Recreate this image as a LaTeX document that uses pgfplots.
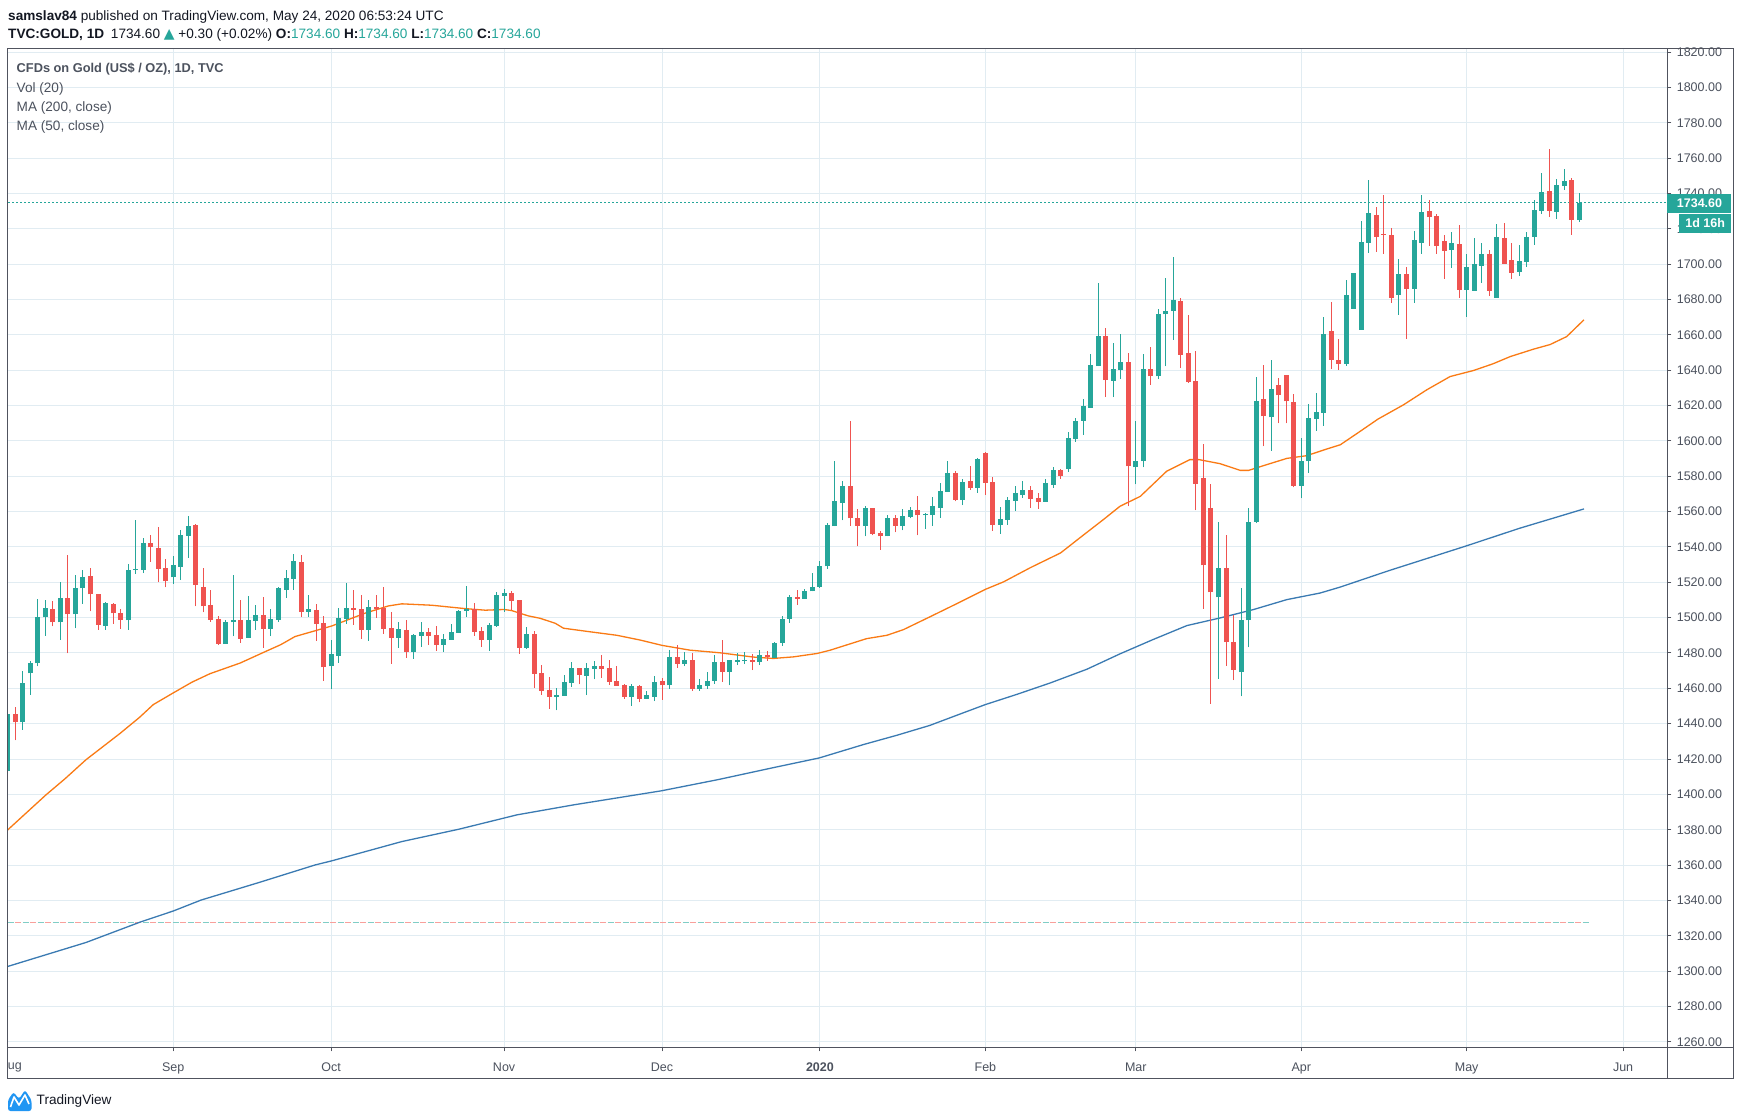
\documentclass[border=0pt]{standalone}
\usepackage{fontspec}
\setmainfont{Liberation Sans}
\newfontfamily\dejavu{DejaVu Sans}
\usepackage{pgfplots}
\pgfplotsset{compat=1.18}
\usepackage{pgfplotstable}
\definecolor{upc}{HTML}{26A69A}
\definecolor{dnc}{HTML}{EF5350}
\definecolor{gridcol}{HTML}{E1ECF2}
\definecolor{axiscol}{HTML}{50535E}
\definecolor{labcol}{HTML}{4C525E}
\definecolor{hdr}{HTML}{131722}
\definecolor{maorange}{RGB}{250,122,20}
\definecolor{mablue}{RGB}{58,122,178}
\definecolor{volred}{RGB}{248,160,155}
\definecolor{volteal}{RGB}{128,205,198}
\definecolor{tvblue}{HTML}{2196F3}

\pgfplotstableread{
i o h l c
0 1413.1 1446 1413 1445.7
2 1440.8 1470 1436.6 1463.2
3 1468.5 1475.3 1456.4 1474.3
4 1474.1 1510.7 1472.4 1500.3
5 1500.1 1510.1 1489.8 1505.4
7 1497.3 1520.3 1487.5 1511
9 1501.8 1524.2 1493.9 1516.7
10 1516.5 1527 1507.8 1523.1
13 1495.4 1509 1493.1 1508.4
16 1498.4 1530.4 1493.1 1527
17 1527 1555.3 1524.8 1527.6
18 1527 1545.1 1525.2 1542.3
22 1522.7 1535 1519.1 1529.9
23 1528.9 1549.6 1521.4 1546.8
24 1546.4 1557.6 1534 1551.9
29 1485.2 1498.8 1485.2 1497.7
30 1497.3 1524.2 1489.4 1498.8
32 1488.6 1512.4 1488.6 1498.8
33 1498.2 1507.3 1493.1 1501.6
35 1493.7 1505 1489.6 1499.3
36 1498.8 1517.4 1497.7 1516.9
37 1515.9 1527 1511.3 1522.4
38 1522.1 1536 1515.9 1532.1
40 1503.4 1512.8 1500.6 1504.7
43 1472.4 1487.4 1459.5 1479.5
44 1478.4 1505.3 1474.6 1499.8
45 1499.3 1519.6 1496.5 1505.5
48 1493.1 1510 1487 1506.1
52 1488.6 1497.6 1482.9 1493.6
54 1480.6 1490.8 1476.7 1490.2
55 1489.7 1497.6 1483.5 1491.9
58 1484.6 1490.8 1480.6 1488
59 1487.4 1496.5 1487.4 1491.9
60 1491.4 1504.4 1491.4 1503.8
61 1503.8 1517.9 1500.4 1504.6
64 1487.4 1497 1481.2 1495.9
65 1495.3 1514.5 1494.8 1512.8
66 1512.3 1516.2 1503.2 1514
69 1482.9 1494.8 1482.3 1490.8
73 1455.1 1460.4 1447.5 1456.1
74 1455.7 1467.4 1455.7 1463.3
75 1463.1 1474.8 1460.8 1471.4
77 1467 1474.1 1456.1 1471.4
78 1471 1475.4 1465 1472.5
83 1455.1 1462.7 1450 1461.2
85 1454 1458.3 1454 1456.1
86 1455.1 1466.9 1452.8 1463.5
88 1461.7 1481.6 1459.7 1477.7
90 1473.9 1480.5 1472.5 1476
92 1459.7 1465 1458.5 1461.7
93 1461.4 1469.1 1459.7 1464
94 1464.2 1478.8 1462.7 1474.8
96 1469.3 1476 1461.7 1476
97 1475 1480 1473.1 1476
98 1475.6 1480.5 1473.7 1476.2
100 1475 1481.6 1473.1 1478.6
102 1477.1 1486 1477.1 1485.6
103 1485.8 1500.9 1484 1499.2
104 1499.4 1512.9 1497.2 1511.6
106 1510.8 1516.1 1510.8 1515.2
107 1514.8 1525.4 1514.8 1517.4
108 1517.4 1531.8 1517 1529.4
109 1529 1553.4 1527.7 1552.5
110 1551.7 1588.4 1551.7 1565.7
111 1565.1 1577.4 1555 1574.5
114 1552.1 1563.2 1545.9 1562.1
117 1546 1558.2 1546 1556.5
119 1552.1 1561.5 1549.3 1557.6
120 1557.2 1562.7 1556.1 1561
122 1557.8 1559.3 1550.4 1558.7
123 1558.3 1568.3 1552.1 1563.2
124 1562.3 1576.2 1556.6 1571.7
125 1571.3 1588.7 1571.3 1581.9
127 1566.6 1578.5 1563.6 1576.8
129 1573.4 1590.4 1570.6 1589.8
132 1552.5 1562.7 1547.4 1555.9
133 1555.3 1568.3 1552.5 1566.6
134 1566.1 1574.5 1560.4 1570.6
135 1569.5 1577.4 1567.8 1572.3
138 1565.5 1578.5 1565.5 1576.2
139 1575.1 1585.3 1573.4 1583.6
141 1584.1 1605 1582.4 1601.7
142 1601.1 1613 1599.4 1611.3
143 1611.3 1623.7 1603.4 1619.7
144 1618.8 1649.1 1618.8 1642.9
145 1642.3 1689.2 1642.3 1659.3
147 1633.8 1655.3 1624.8 1640.6
148 1640.1 1660.4 1635 1644.6
150 1585 1611.4 1575.4 1588.8
151 1588.4 1649.3 1585 1640.8
153 1636.5 1674.6 1635 1671.9
154 1671.6 1692.3 1642.1 1673.6
155 1673.2 1703.8 1657.2 1679.8
161 1511.5 1554.3 1465.5 1528.3
164 1469.1 1517 1455.5 1498.9
165 1498.5 1561.8 1483.2 1554.3
166 1554.3 1635.9 1553.5 1622.7
168 1613.3 1645.9 1594.5 1629.5
172 1574.6 1601.8 1567.5 1588.8
173 1588.4 1621 1582 1613.1
174 1612.5 1627.2 1605.8 1616.5
175 1615.9 1670.2 1608.6 1660.6
178 1643.6 1690.8 1642.5 1682.3
179 1674.7 1695.1 1674.7 1695.1
180 1662.8 1724.5 1662.8 1712.6
181 1712.1 1747.7 1706.4 1729.1
185 1682.6 1703 1671.3 1694.5
187 1686 1718.9 1678.1 1713.8
188 1712.1 1739.2 1705.8 1729.6
192 1708.1 1718.3 1697.9 1712.1
194 1685.5 1705.8 1670.2 1698.5
195 1684.9 1714.9 1684.9 1700.2
196 1699.1 1712.1 1689.4 1705.8
198 1680.9 1722.8 1680.9 1715.5
201 1695.7 1710.9 1693.4 1701.9
202 1701.3 1718.3 1698.5 1715.5
203 1715.5 1736.4 1710.9 1730.8
204 1730.2 1751.7 1728.5 1740.9
206 1729.6 1748.3 1725.7 1744.9
207 1744.3 1754 1742.1 1747.2
209 1725.1 1740.4 1724 1734.6
}\upbars

\pgfplotstableread{
i o h l c
1 1445.7 1449.6 1430.6 1440.8
6 1505 1509.5 1495 1497.3
8 1511 1535.5 1479.8 1501.8
11 1523.7 1527.9 1503.5 1513.1
12 1513.5 1513.5 1493.1 1496
14 1507.8 1508.4 1496.5 1502.4
15 1502.8 1505 1493.7 1498.8
19 1542.3 1546.8 1531.6 1539.7
20 1539.5 1551 1519.9 1527.6
21 1528.2 1533.3 1517.1 1520.5
25 1552.5 1553 1506.3 1518.6
26 1517.4 1528 1502.9 1506.3
27 1507.3 1515.7 1497.7 1498.8
28 1499.4 1501 1484.7 1485.2
31 1498.8 1509.7 1485.8 1488.1
34 1501.6 1511.8 1483 1493.7
39 1531.5 1535.4 1500.6 1503.4
41 1504.4 1507.8 1487 1496.5
42 1497 1501 1464.4 1471.8
46 1505.5 1515.7 1495.9 1504.4
47 1504.9 1512.8 1487.8 1493.1
49 1506.1 1512.8 1499.8 1504.7
50 1505.5 1517.4 1490.8 1493.6
51 1494.2 1503.2 1473.9 1488.6
53 1493.1 1498.7 1477.3 1480.6
56 1491.9 1494.2 1484.6 1489.7
57 1490.2 1495.3 1481.2 1484.6
62 1504.9 1508.3 1489.7 1491.9
63 1492.5 1494.8 1483.5 1487.4
67 1514 1515.1 1504.4 1509.5
68 1510 1510 1479.5 1482.9
70 1490.8 1492.5 1460.3 1468.2
71 1468.8 1473.3 1456.3 1458.6
72 1459.2 1466.5 1448.4 1455.2
76 1471.4 1471.4 1462.3 1467.6
79 1472.5 1478.6 1465.9 1471
80 1471.4 1476 1462 1463.6
81 1464 1472.9 1461.4 1461.4
82 1461.7 1462.3 1454 1455.1
84 1461.2 1461.7 1452.1 1454
87 1464 1465.9 1453.4 1461.7
89 1477.7 1484.5 1471.6 1473.9
91 1476 1480 1458.5 1459.7
95 1474.8 1487.3 1463.6 1469.3
99 1476 1479.4 1470.3 1475
101 1478.6 1481.3 1475.6 1477.7
105 1511.6 1515.7 1507.2 1510.8
112 1574.5 1611.3 1552.1 1556.1
113 1556.5 1561.5 1540.3 1552.1
115 1562.1 1562.1 1546.5 1547.4
116 1548 1549.1 1538.4 1546
118 1556.5 1558.2 1548.2 1552.1
121 1561 1568.9 1546.5 1557.8
126 1581.9 1583 1565.7 1566.6
128 1577.4 1585.8 1572.3 1573.4
130 1593.2 1593.8 1569.5 1576.2
131 1576.8 1579.6 1549.1 1552.5
136 1572.3 1574.5 1562.3 1567.2
137 1567.8 1570.6 1561.5 1565.5
140 1583.6 1584.1 1578.5 1580.2
146 1659.3 1663.8 1624.8 1634.4
149 1644.6 1649.7 1563 1585.5
152 1640.8 1653.3 1631.8 1636.5
156 1679.3 1680.8 1641.2 1648.7
157 1649.9 1671.3 1632.9 1633.3
158 1634 1650.6 1560.7 1575.8
159 1579.2 1598.4 1505.1 1529.6
160 1562.2 1575.8 1451.4 1514.3
162 1528.3 1546.6 1472.9 1486.1
163 1486.4 1501.7 1464.6 1470.6
167 1623.8 1643.1 1596.9 1613.9
169 1631.8 1635.7 1609.9 1625.7
170 1637.4 1637.4 1609.9 1622.3
171 1622 1626.7 1573.7 1574.6
176 1662.3 1678.7 1640.8 1645.9
177 1645.9 1657.8 1640.2 1643.6
182 1727.9 1732.5 1707 1715.5
183 1717.2 1739.2 1705.8 1716.6
184 1716.6 1720.6 1678.1 1680.9
186 1694.5 1698.5 1657.7 1686
189 1730.2 1736.4 1710.4 1726.8
190 1727.4 1728.5 1705.8 1710.4
191 1713.2 1716.6 1691.7 1707.5
193 1711.5 1722.3 1680.9 1685.5
197 1705.8 1708.1 1682.1 1684.9
199 1714.9 1723.4 1700.2 1700.2
200 1702.5 1712.1 1691.7 1695.1
205 1741.5 1765.3 1726.8 1730.2
208 1747.7 1748.9 1716.6 1725.1
}\downbars

\newcommand{\hdrfont}{\fontsize{13.6bp}{15bp}\selectfont}
\newcommand{\legfont}{\fontsize{13.6bp}{15bp}\selectfont}

\begin{document}
\begin{tikzpicture}
\fill[white] (0bp,0bp) rectangle (1741bp,-1119bp);
\useasboundingbox (0bp,0bp) rectangle (1741bp,-1119bp);

\begin{axis}[
  at={(7.3bp,-1047.3bp)}, anchor=south west,
  scale only axis, width=1660bp, height=999.1bp,
  xmin=-0.066, xmax=220.68, ymin=1256.89, ymax=1822.15,
  axis line style={draw=axiscol, line width=1bp},
  xtick={22,43,66,87,108,130,150,172,194,214.8},
  xticklabels={Sep,Oct,Nov,Dec,\textbf{2020},Feb,Mar,Apr,May,Jun},
  ytick={1260,1280,...,1820},
  xtick pos=left, ytick pos=right, yticklabel pos=right,
  tick align=outside, major tick length=4bp,
  tick style={draw=axiscol, line width=1bp},
  grid=major, major grid style={draw=gridcol, line width=1bp},
  scaled y ticks=false,
  /pgf/number format/assume math mode=true,
  tick label style={font=\fontsize{12.5bp}{14bp}\selectfont, text=labcol},
  xticklabel style={yshift=-7.3bp, text height=9.1bp, text depth=2.7bp},
  yticklabel style={anchor=west, xshift=2bp,
     /pgf/number format/fixed, /pgf/number format/fixed zerofill,
     /pgf/number format/precision=2, /pgf/number format/1000 sep={}},
  clip=true,
]
% volume MA (dashed, two colours)
\addplot[volred, line width=1.2bp, dash pattern=on 6bp off 9bp, forget plot] coordinates {(-1,1327.6) (210.4,1327.6)};
\addplot[volteal, line width=1.2bp, dash pattern=on 6bp off 9bp, dash phase=7.5bp, forget plot] coordinates {(-1,1327.6) (210.4,1327.6)};
% last price line
\addplot[upc, line width=1bp, dash pattern=on 2bp off 2bp, forget plot] coordinates {(-1,1734.6) (222,1734.6)};
% MA 200
\addplot[mablue, line width=1.3bp, forget plot] coordinates {
(-0.5,1302) (10.4,1316.2) (17.7,1327.9) (22,1334) (25.7,1340.2) (33.3,1350) (40.9,1360.1) (43,1362.3) (52.4,1373.3) (60,1380.3) (65.9,1386.5) (67.7,1388.4) (75.3,1394.1) (86.9,1402) (94.4,1408.3) (102,1415.3) (107.9,1420.6) (113.8,1428.2) (118.2,1433.4) (122.6,1439) (127.1,1446.2) (130,1450.8) (134.2,1456.6) (138.6,1463) (143.5,1470.8) (147.9,1479.5) (152.3,1487.6) (156.8,1495.5) (161.2,1499.8) (165.6,1504.5) (170.1,1510.2) (174.5,1513.9) (177.2,1517.3) (183.6,1526.5) (193.9,1540.5) (201,1550.5) (209.6,1561.5)};
% MA 50
\addplot[maorange, line width=1.3bp, forget plot] coordinates {
(-0.5,1378) (5.1,1399.8) (7.6,1408.8) (10.4,1419.6) (14.9,1434.4) (17.5,1443.5) (19.35,1450.8) (22,1457.4) (24.5,1463.5) (26.9,1468.3) (30.9,1474.3) (34.1,1480.5) (36.3,1484.7) (38.2,1489.3) (43.1,1495.3) (47.5,1502.5) (50.6,1506.6) (52.4,1507.8) (56.4,1507) (60.8,1505.1) (63.5,1504.2) (66,1504.6) (67,1504) (69.2,1501) (70.8,1499.6) (72.8,1496.8) (73.9,1494) (77.4,1492) (81,1490) (84.1,1487.3) (87,1484.3) (90.7,1481.6) (94.7,1480.1) (99.1,1477.7) (101.8,1476.9) (104.5,1477.8) (107.6,1479.7) (109.3,1481.5) (114.2,1488.1) (116.9,1490) (119.1,1493.2) (122.6,1500.4) (126.2,1507.9) (130,1516) (132.4,1520.2) (136,1528.3) (140,1536.6) (143,1546.6) (145.7,1555.5) (147.9,1563) (149.2,1565.7) (150.6,1568.6) (154.1,1582.8) (157.2,1589.4) (158.4,1589.4) (161.2,1587.1) (163.9,1583.3) (165,1583.3) (167,1586) (170.1,1590.1) (172.7,1591.6) (175.4,1595.4) (177.2,1597.8) (179.7,1605) (182.2,1612.3) (185.6,1620.4) (188.7,1628.9) (191.8,1636.4) (194.9,1639.8) (197.5,1643.6) (199.8,1647.7) (202.9,1651.9) (205.1,1654.5) (207.3,1659) (209.6,1668.5)};
% wicks
\addplot[draw=none, mark=none, forget plot,
  error bars/.cd, y dir=plus, y explicit, error mark=none,
  error bar style={line width=1bp, draw=upc}]
  table[x=i, y=l, y error plus expr=\thisrow{h}-\thisrow{l}] {\upbars};
\addplot[draw=none, mark=none, forget plot,
  error bars/.cd, y dir=plus, y explicit, error mark=none,
  error bar style={line width=1bp, draw=dnc}]
  table[x=i, y=l, y error plus expr=\thisrow{h}-\thisrow{l}] {\downbars};
% bodies
\addplot[draw=none, mark=none, forget plot,
  error bars/.cd, y dir=plus, y explicit, error mark=none,
  error bar style={line width=5bp, draw=upc}]
  table[x=i, y=o, y error plus expr=\thisrow{c}-\thisrow{o}] {\upbars};
\addplot[draw=none, mark=none, forget plot,
  error bars/.cd, y dir=plus, y explicit, error mark=none,
  error bar style={line width=5bp, draw=dnc}]
  table[x=i, y=c, y error plus expr=\thisrow{o}-\thisrow{c}] {\downbars};
\end{axis}

\begin{scope}[x=1bp,y=1bp]
% outer frame
\draw[axiscol, line width=1bp] (7.3,-48.2) rectangle (1733,-1078.3);
\draw[axiscol, line width=1bp] (1667.3,-48.2) -- (1667.3,-1078.3);
\draw[axiscol, line width=1bp] (7.3,-1047.3) -- (1733,-1047.3);
% partial Aug label
\node[anchor=west, inner sep=0, font=\fontsize{12.5bp}{14bp}\selectfont, text=labcol] at (7.8,-1067.5) {ug};
% price boxes
\fill[upc] (1667.3,-194) rectangle (1731,-212.7);
\node[font=\fontsize{12.5bp}{14bp}\selectfont\bfseries, text=white, inner sep=0] at (1699.5,-203.4) {1734.60};
\fill[upc] (1679.3,-214) rectangle (1731,-232.7);
\node[font=\fontsize{12.5bp}{14bp}\selectfont\bfseries, text=white, inner sep=0] at (1705.2,-223.4) {1d 16h};
% header
\node[anchor=west, inner sep=0, font=\hdrfont, text=hdr] at (8,-16.5) {\textbf{samslav84} published on TradingView.com, May 24, 2020 06:53:24 UTC};
\node[anchor=west, inner sep=0, font=\hdrfont, text=hdr] at (8,-35.2) {\textbf{TVC:GOLD, 1D}\enspace1734.60 {\color{upc}\dejavu\fontsize{14bp}{14bp}\selectfont ▲} +0.30 (+0.02\%) \textbf{O:}{\color{upc}1734.60} \textbf{H:}{\color{upc}1734.60} \textbf{L:}{\color{upc}1734.60} \textbf{C:}{\color{upc}1734.60}};
% legend
\node[anchor=west, inner sep=0, font=\fontsize{12.8bp}{15bp}\selectfont\bfseries, text=labcol] at (16.5,-69.5) {CFDs on Gold (US\$ / OZ), 1D, TVC};
\node[anchor=west, inner sep=0, font=\legfont, text=labcol] at (16.5,-88.5) {Vol (20)};
\node[anchor=west, inner sep=0, font=\legfont, text=labcol] at (16.5,-107.5) {MA (200, close)};
\node[anchor=west, inner sep=0, font=\legfont, text=labcol] at (16.5,-126.5) {MA (50, close)};
% TradingView logo
\fill[tvblue, rounded corners=2.5bp] (8,-1111) -- (8,-1100) -- (13.5,-1092) -- (19,-1099) -- (25,-1090) -- (31.5,-1100) -- (31.5,-1111) -- cycle;
\draw[white, line width=1.6bp, line join=round] (10.5,-1107) -- (14,-1097) -- (19,-1105) -- (25,-1095) -- (29,-1104);
\node[anchor=west, inner sep=0, font=\hdrfont, text=hdr] at (36.5,-1101) {TradingView};
\end{scope}
\end{tikzpicture}
\end{document}
